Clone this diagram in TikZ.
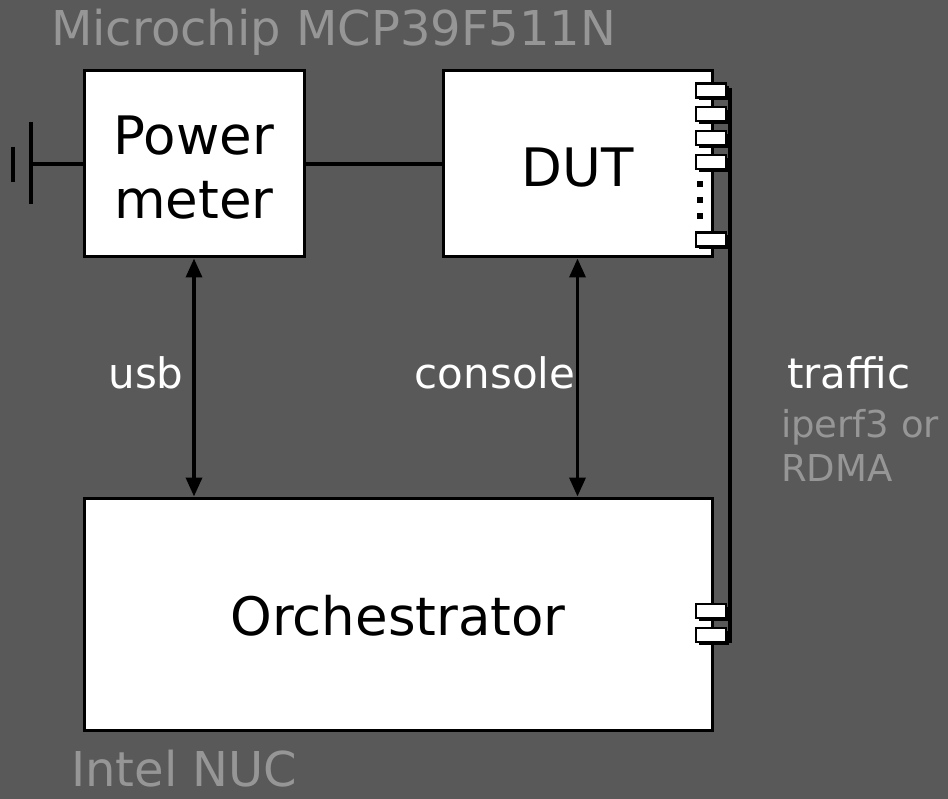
\documentclass[tikz,border=0pt]{standalone}
\usepackage{fontspec}
\setmainfont{DejaVu Sans}
\usetikzlibrary{arrows.meta,shadows}
\definecolor{bgc}{RGB}{89,89,89}
\definecolor{greytext}{RGB}{150,150,150}
\begin{document}
\begin{tikzpicture}[x=1pt,y=-1pt,
  box/.style={draw=black, fill=white, line width=3pt, inner sep=0pt,
    font=\fontsize{53}{64.5}\selectfont},
  port/.style={draw=black, fill=white, line width=2.5pt, minimum width=30pt, minimum height=14pt,
    inner sep=0pt, general shadow={fill=black, shadow xshift=3pt, shadow yshift=-3pt}},
  lbl/.style={text=white, inner sep=0pt, font=\fontsize{42}{48}\selectfont},
  note/.style={text=greytext, inner sep=0pt, anchor=base west},
  conn/.style={draw=black, line width=3.5pt},
  arr/.style={draw=black, line width=3.5pt, {Triangle[width=16pt,length=19pt]}-{Triangle[width=16pt,length=19pt]}},
  dot/.style={fill=black, minimum size=6pt, inner sep=0pt}]
\fill[bgc] (0,0) rectangle (948,799);
\useasboundingbox (0,0) rectangle (948,799);

% title labels
\node[note, font=\fontsize{48}{54}\selectfont] (title) at (51,46) {Microchip MCP39F511N};
\node[note, font=\fontsize{48}{54}\selectfont] (nuc) at (71,786) {Intel NUC};

% boxes
\node[box, minimum width=220pt, minimum height=186pt] (pm) at (194,164)
  {\raisebox{9.5pt}[0pt][0pt]{\begin{tabular}[t]{@{}c@{}}Power\\meter\end{tabular}}};
\node[box, minimum width=269pt, minimum height=186pt] (dut) at (577.5,164)
  {\raisebox{-22.5pt}[0pt][0pt]{DUT}};
\node[box, minimum width=628pt, minimum height=232pt] (orch) at (398,614)
  {\raisebox{-21pt}[0pt][0pt]{Orchestrator}};

% traffic line
\coordinate (ttop) at (730,88);
\coordinate (tbot) at (730,643);
\draw[conn, line width=4pt] (ttop) -- (tbot);

% DUT ports
\node[port] (p1) at (711,90.5) {};
\node[port] (p2) at (711,114) {};
\node[port] (p3) at (711,138) {};
\node[port] (p4) at (711,162) {};
\node[port] (p5) at (711,239.5) {};
\node[dot] (d1) at (700,184) {};
\node[dot] (d2) at (700,200) {};
\node[dot] (d3) at (700,216) {};

% orchestrator ports
\node[port] (o1) at (711,611) {};
\node[port] (o2) at (711,635) {};

% ground symbol
\coordinate (g) at (31,164);
\coordinate (gt) at (31,122);
\coordinate (gb) at (31,204);
\coordinate (st) at (13,147);
\coordinate (sb) at (13,182);
\draw[conn] (pm.west) -- (g);
\draw[conn, line width=4pt] (gt) -- (gb);
\draw[conn, line width=4pt] (st) -- (sb);

% power meter to DUT
\draw[conn] (pm.east) -- (dut.west);

% arrows
\draw[arr] (pm.south) -- (pm.south |- orch.north);
\draw[arr] (dut.south) -- (dut.south |- orch.north);

% labels
\node[lbl, anchor=base] (usb) at (146,389) {usb};
\node[lbl, anchor=base] (console) at (495,389) {console};
\node[lbl, anchor=base west] (traffic) at (787,389) {traffic};
\node[note, font=\fontsize{37}{43}\selectfont] (iperf) at (781,438) {iperf3 or};
\node[note, font=\fontsize{37}{43}\selectfont] (rdma) at (781,481) {RDMA};
\end{tikzpicture}
\end{document}
